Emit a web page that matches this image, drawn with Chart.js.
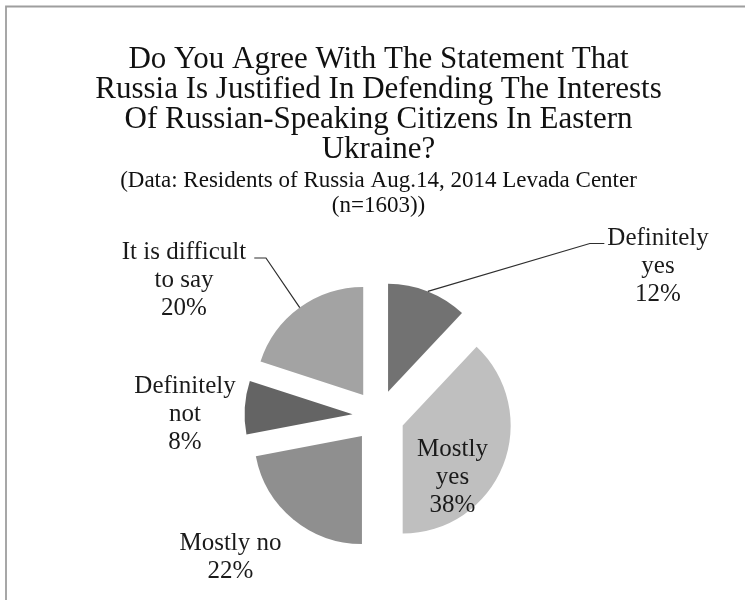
<!DOCTYPE html>
<html>
<head>
<meta charset="utf-8">
<script src="https://cdn.jsdelivr.net/npm/chart.js@4.4.1/dist/chart.umd.min.js"></script>
<style>
html,body{margin:0;padding:0;background:#fff;}
#wrap{width:745px;height:600px;position:relative;}
</style>
</head>
<body>
<div id="wrap"><canvas id="c" width="745" height="600"></canvas></div>
<script>
// ---- data ----
const categories = ['Definitely yes', 'Mostly yes', 'Mostly no', 'Definitely not', 'It is difficult to say'];
const values = [12, 38, 22, 8, 20];
const labelLines = [['Definitely', 'yes'], ['Mostly', 'yes'], ['Mostly no'], ['Definitely', 'not'], ['It is difficult', 'to say']];
const titleLines = [
  'Do You Agree With The Statement That',
  'Russia Is Justified In Defending The Interests',
  'Of Russian-Speaking Citizens In Eastern',
  'Ukraine?'
];
const subtitleLines = [
  '(Data: Residents of Russia Aug.14, 2014 Levada Center',
  '(n=1603))'
];

// ---- styles / layout ----
const sliceColors = ['#727272', '#bfbfbf', '#8f8f8f', '#646464', '#a3a3a3'];
const FONT = '"Liberation Serif", "Times New Roman", serif';
const EXPLODE = 26;
const PIE_RADIUS = 108;
const LABEL_SIZE = 25;
const LABEL_LH = 28;
// label block centres relative to pie centre (px)
const labelOffsets = [[279.5, -149.5], [74, 61], [-148, 141.5], [-193.5, -2], [-194.5, -136]];
// leader line: 1 = line reaches text from the left, -1 = from the right, 0 = none
const leaderSide = [1, 0, 0, 0, -1];

const explodePlugin = {
  id: 'explode',
  afterDatasetsUpdate(chart) {
    const meta = chart.getDatasetMeta(0);
    meta.data.forEach(arc => {
      const mid = (arc.startAngle + arc.endAngle) / 2;
      arc.x += Math.cos(mid) * EXPLODE;
      arc.y += Math.sin(mid) * EXPLODE;
    });
  }
};

const framePlugin = {
  id: 'frame',
  beforeDraw(chart) {
    const ctx = chart.ctx;
    ctx.save();
    ctx.fillStyle = '#ffffff';
    ctx.fillRect(0, 0, chart.width, chart.height);
    ctx.strokeStyle = '#9e9e9e';
    ctx.lineWidth = 1.8;
    ctx.beginPath();
    ctx.moveTo(6, chart.height);
    ctx.lineTo(6, 6.5);
    ctx.lineTo(chart.width, 6.5);
    ctx.stroke();
    ctx.restore();
  }
};

const labelPlugin = {
  id: 'sliceLabels',
  afterDatasetsDraw(chart) {
    const ctx = chart.ctx;
    const meta = chart.getDatasetMeta(0);
    const a0 = meta.data[0];
    const m0 = (a0.startAngle + a0.endAngle) / 2;
    const cx = a0.x - Math.cos(m0) * EXPLODE;
    const cy = a0.y - Math.sin(m0) * EXPLODE;
    ctx.save();
    ctx.font = LABEL_SIZE + 'px ' + FONT;
    ctx.fillStyle = '#1a1a1a';
    ctx.textAlign = 'center';
    ctx.textBaseline = 'middle';
    meta.data.forEach((arc, i) => {
      const lines = labelLines[i].concat([values[i] + '%']);
      const bx = cx + labelOffsets[i][0];
      const by = cy + labelOffsets[i][1];
      const y0 = by - (lines.length - 1) / 2 * LABEL_LH;
      lines.forEach((t, k) => ctx.fillText(t, bx, y0 + k * LABEL_LH));
      if (leaderSide[i] !== 0) {
        const mid = (arc.startAngle + arc.endAngle) / 2;
        const r = arc.outerRadius;
        const sx = arc.x + Math.cos(mid) * r;
        const sy = arc.y + Math.sin(mid) * r;
        const w = ctx.measureText(lines[0]).width;
        let ex, ey, elx;
        if (leaderSide[i] === 1) {
          ex = bx - w / 2 - 3; ey = y0 + 5; elx = ex - 14.5;
        } else {
          ex = bx + w / 2 + 8; ey = y0 + 6; elx = ex + 11.7;
        }
        ctx.strokeStyle = '#2e2e2e';
        ctx.lineWidth = 1.2;
        ctx.beginPath();
        ctx.moveTo(sx, sy);
        ctx.lineTo(elx, ey);
        ctx.lineTo(ex, ey);
        ctx.stroke();
      }
    });
    ctx.restore();
  }
};

new Chart(document.getElementById('c'), {
  type: 'pie',
  data: {
    labels: categories,
    datasets: [{
      data: values,
      backgroundColor: sliceColors,
      borderWidth: 0,
      radius: PIE_RADIUS
    }]
  },
  options: {
    responsive: false,
    animation: false,
    events: [],
    layout: { padding: { left: 12, right: 0, top: 0, bottom: 0 } },
    plugins: {
      legend: { display: false },
      tooltip: { enabled: false },
      title: {
        display: true,
        text: titleLines,
        color: '#111',
        font: { family: FONT, size: 31, weight: 'normal', lineHeight: '30px' },
        padding: { top: 44.5, bottom: 0 }
      },
      subtitle: {
        display: true,
        text: subtitleLines,
        color: '#111',
        font: { family: FONT, size: 23, weight: 'normal', lineHeight: '25px' },
        padding: { top: 3.5, bottom: 14 }
      }
    }
  },
  plugins: [framePlugin, explodePlugin, labelPlugin]
});
</script>
</body>
</html>
